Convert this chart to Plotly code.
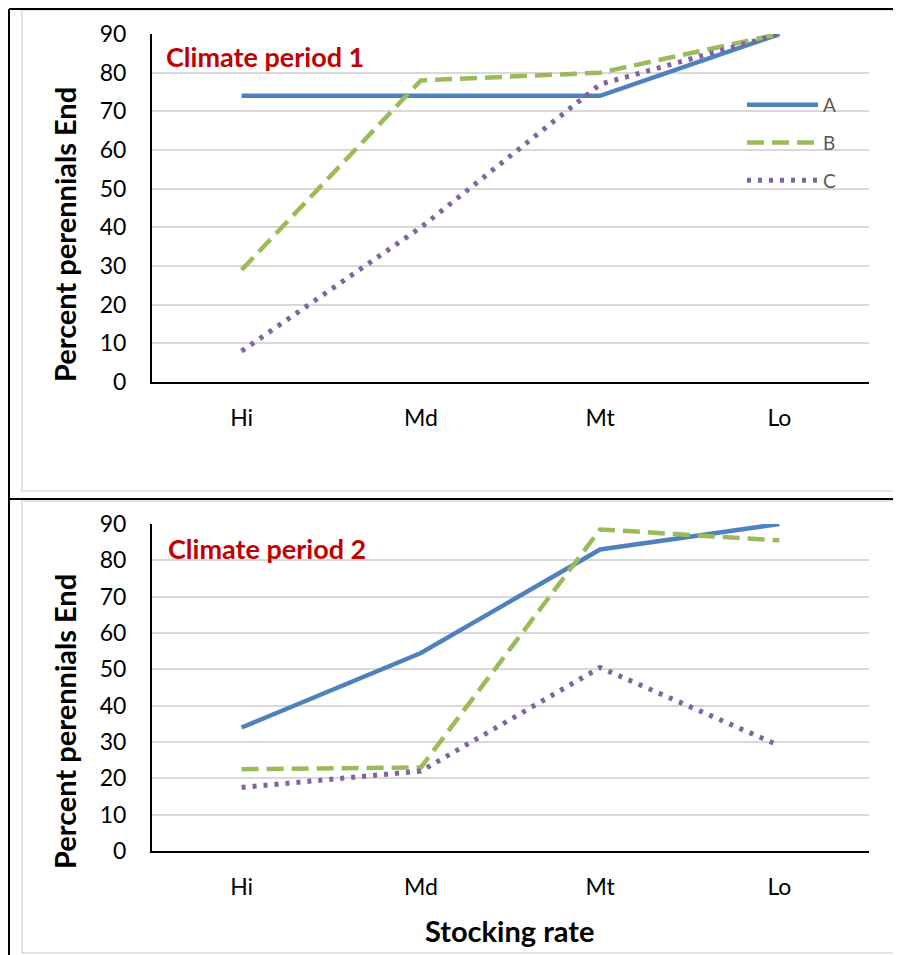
import plotly.graph_objects as go

# Reference picture coordinates are mapped onto the figure, which the page
# places 8px in from the top-left corner.
OFF = 8
W, H = 901 - OFF, 955 - OFF

categories = ["Hi", "Md", "Mt", "Lo"]
series_names = ["A", "B", "C"]
period1 = {
    "A": [74, 74, 74, 90],
    "B": [29, 78, 80, 90],
    "C": [8, 40, 77, 90],
}
period2 = {
    "A": [34, 54.5, 83, 90],
    "B": [22.5, 23, 88.5, 85.5],
    "C": [17.5, 22, 50.5, 29],
}
y_ticks = [0, 10, 20, 30, 40, 50, 60, 70, 80, 90]
panel_titles = ["Climate period 1", "Climate period 2"]
y_title = "Percent perennials End"
x_title = "Stocking rate"

colors = {"A": "#4F81BD", "B": "#9BBB59", "C": "#8064A2"}
dashes = {"A": "solid", "B": "17px,8px", "C": "4px,7px"}
widths = {"A": 4.5, "B": 4.5, "C": 5}

FONT = "Lato"


def px(x):
    return (x - OFF) / W


def py(y):
    return 1 - (y - OFF) / H


fig = go.Figure()

for name in series_names:
    fig.add_trace(go.Scatter(
        x=categories, y=period1[name], name=name, mode="lines",
        line=dict(color=colors[name], width=widths[name], dash=dashes[name]),
        xaxis="x", yaxis="y", legendgroup=name, showlegend=True,
        cliponaxis=False,
    ))
for name in series_names:
    fig.add_trace(go.Scatter(
        x=categories, y=period2[name], name=name, mode="lines",
        line=dict(color=colors[name], width=widths[name], dash=dashes[name]),
        xaxis="x2", yaxis="y2", legendgroup=name, showlegend=False,
        cliponaxis=False,
    ))

xdom = [px(152), px(869)]
common_x = dict(
    type="category", categoryorder="array", categoryarray=categories,
    range=[-0.5, 3.5], showline=True, linecolor="black", linewidth=2,
    showgrid=False, ticks="", zeroline=False, automargin=False,
    tickfont=dict(family=FONT, size=23, color="black"), ticklabelstandoff=14,
    fixedrange=True,
)
common_y = dict(
    range=[0, 90], tickvals=y_ticks, showline=True, linecolor="black",
    linewidth=2, showgrid=True, gridcolor="#D9D9D9", gridwidth=1.5,
    zeroline=False, ticks="", automargin=False,
    tickfont=dict(family=FONT, size=23, color="black"), ticklabelstandoff=19,
    fixedrange=True,
)

fig.update_layout(
    template="none",
    width=W, height=H, margin=dict(l=0, r=0, t=0, b=0, pad=0, autoexpand=False),
    paper_bgcolor="white", plot_bgcolor="white",
    xaxis=dict(domain=xdom, anchor="y", **common_x),
    yaxis=dict(domain=[py(382), py(34)], anchor="x", **common_y),
    xaxis2=dict(domain=xdom, anchor="y2", **common_x),
    yaxis2=dict(domain=[py(851), py(524)], anchor="x2", **common_y),
    showlegend=True,
    legend=dict(
        x=px(742), y=py(86), xanchor="left", yanchor="top",
        font=dict(family=FONT, size=19, color="#595959"),
        bgcolor="rgba(0,0,0,0)", borderwidth=0, tracegroupgap=10, itemwidth=71,
    ),
)

# Panel borders (chart area and outer frame)
shapes = [
    dict(type="rect", xref="paper", yref="paper", x0=px(22), x1=px(897),
         y0=py(491), y1=py(10), line=dict(color="#D9D9D9", width=1.5)),
    dict(type="rect", xref="paper", yref="paper", x0=px(22), x1=px(897),
         y0=py(953), y1=py(501), line=dict(color="#D9D9D9", width=1.5)),
    dict(type="line", xref="paper", yref="paper", x0=px(9), x1=px(9),
         y0=py(955), y1=py(9), line=dict(color="black", width=2)),
    dict(type="line", xref="paper", yref="paper", x0=px(9), x1=px(901),
         y0=py(9), y1=py(9), line=dict(color="black", width=2)),
    dict(type="line", xref="paper", yref="paper", x0=px(9), x1=px(901),
         y0=py(499), y1=py(499), line=dict(color="black", width=2)),
]
fig.update_layout(shapes=shapes)

annotations = [
    dict(text=panel_titles[0], xref="paper", yref="paper", x=px(164), y=py(57),
         xanchor="left", yanchor="middle", showarrow=False,
         font=dict(family=FONT, size=27, color="#C00000", weight="bold")),
    dict(text=panel_titles[1], xref="paper", yref="paper", x=px(166), y=py(548),
         xanchor="left", yanchor="middle", showarrow=False,
         font=dict(family=FONT, size=27, color="#C00000", weight="bold")),
    dict(text=y_title, xref="paper", yref="paper", x=px(64), y=py(235),
         xanchor="center", yanchor="middle", showarrow=False, textangle=-90,
         font=dict(family=FONT, size=29, color="black", weight="bold")),
    dict(text=y_title, xref="paper", yref="paper", x=px(64), y=py(722),
         xanchor="center", yanchor="middle", showarrow=False, textangle=-90,
         font=dict(family=FONT, size=29, color="black", weight="bold")),
    dict(text=x_title, xref="paper", yref="paper", x=px(510), y=py(930),
         xanchor="center", yanchor="middle", showarrow=False,
         font=dict(family=FONT, size=29, color="black", weight="bold")),
]
fig.update_layout(annotations=annotations)

fig.write_html("out.html")
